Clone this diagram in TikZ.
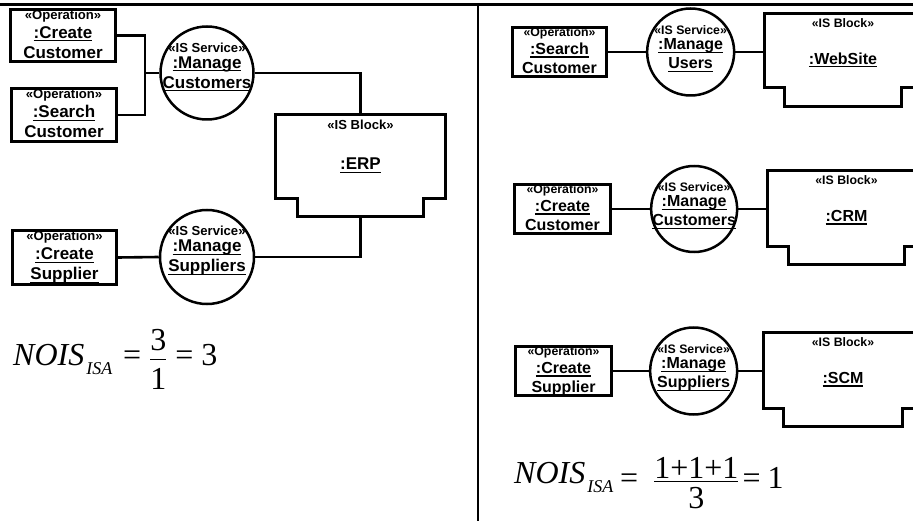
\documentclass[tikz,border=0pt]{standalone}
\usepackage{fontspec}
\setmainfont{Liberation Serif}
\setsansfont{Liberation Sans}
\usepackage{amsmath}
\usetikzlibrary{positioning}
\newsavebox{\nmbox}
\newcommand{\stereo}[1]{{\fontsize{0.77em}{1em}\selectfont «#1»}}
\newcommand{\nm}[1]{\sbox{\nmbox}{#1}\rlap{\rule[-3.2pt]{\wd\nmbox}{1.2pt}}\usebox{\nmbox}}
\newcommand{\nois}{\mbox{\itshape NOIS\kern2pt\raisebox{-9pt}{\fontsize{18}{18}\selectfont ISA}}}
\newcommand{\eqs}{\mathrel{\mbox{=}}}
\newcommand{\up}[2]{\raisebox{#1}[\height][\depth]{#2}}
% outline of an IS block: body with a narrower foot
\newcommand{\blkframe}[3]{%
  \draw[frame] (#1.north west) -- (#1.north east) -- ([yshift=#3]#1.south east)
    -- ([shift={(-#2,#3)}]#1.south east) -- ([xshift=-#2]#1.south east)
    -- ([xshift=#2]#1.south west) -- ([shift={(#2,#3)}]#1.south west)
    -- ([yshift=#3]#1.south west) -- cycle;}
\tikzset{
  lft/.style={font=\sffamily\bfseries\fontsize{17}{20}\selectfont},
  rgt/.style={font=\sffamily\bfseries\fontsize{16}{19}\selectfont},
  opbox/.style={draw, line width=2.8pt, align=center, inner sep=0pt},
  svc/.style={draw, circle, line width=2.5pt, inner sep=0pt},
  svclbl/.style={align=center, yshift=#1, inner sep=0pt},
  svclbl/.default=6pt,
  blk/.style={outer sep=0pt, inner sep=0pt, align=center},
  blklbl/.style={anchor=center, yshift=-10pt, inner sep=0pt},
  frame/.style={line width=2.8pt},
  wire/.style={line width=2.6pt},
  rule/.style={line width=2.8pt},
  formula/.style={font=\rmfamily\mdseries\fontsize{32}{38}\selectfont, inner sep=0pt, anchor=base west},
}
\begin{document}
\begin{tikzpicture}[x=1pt, y=-1pt]
  \useasboundingbox (0,0) rectangle (913,521);
  \clip (0,0) rectangle (913,521);
  \draw[rule] (0,4.5) -- (913,4.5);
  \draw[rule] (478,4.5) -- (478,521);

  % one IS block
  \begin{scope}[lft]
    \node[opbox, minimum width=105pt, minimum height=52pt] (opCC) at (63,35.5) {\stereo{Operation}\\[-1pt]\nm{:Create}\\\nm{Customer}};
    \node[opbox, minimum width=105pt, minimum height=53pt] (opSC) at (64,115) {\stereo{Operation}\\[-1pt]\nm{:Search}\\\nm{Customer}};
    \node[opbox, minimum width=104pt, minimum height=54pt] (opCS) at (64.5,257.5) {\stereo{Operation}\\[-1pt]\nm{:Create}\\\nm{Supplier}};
    \node[svc, minimum size=93pt, label={[svclbl]center:{\stereo{IS Service}\\[-4pt]\nm{:Manage}\\\nm{Customers}}}] (svcMC) at (207,73) {};
    \node[svc, minimum size=94pt, label={[svclbl]center:{\stereo{IS Service}\\[-4pt]\nm{:Manage}\\\nm{Suppliers}}}] (svcMS) at (207,257) {};
    \node[blk, minimum width=170pt, minimum height=102pt, label={[blklbl]north:\stereo{IS Block}}] (erp) at (360.5,165.5) {\nm{:ERP}};
    \blkframe{erp}{22pt}{18pt}
    \coordinate (jA) at (145,73);
    \draw[wire] (opCC.east) -| (jA) |- (opSC.east);
    \draw[wire] (jA) -- (svcMC.west);
    \draw[wire] (svcMC.east) -| (erp.north);
    \draw[wire] (erp.south) |- (svcMS.east);
    \draw[wire] (opCS.east) -- (svcMS.west);
  \end{scope}

  % three IS blocks
  \begin{scope}[rgt]
    \node[opbox, minimum width=94pt, minimum height=49pt] (opSU) at (559.5,52) {\stereo{Operation}\\[-1pt]\nm{:Search}\\\nm{Customer}};
    \node[svc, minimum size=87pt, right=38pt of opSU, label={[svclbl=3pt]center:{\stereo{IS Service}\\[-4pt]\nm{:Manage}\\\nm{Users}}}] (svcMU) {};
    \node[blk, minimum width=157pt, minimum height=93pt, label={[blklbl]north:\stereo{IS Block}}] (web) at (843,60) {\nm{:WebSite}};
    \blkframe{web}{20pt}{19pt}

    \node[opbox, minimum width=96pt, minimum height=49pt] (opCU) at (562.5,209) {\stereo{Operation}\\[-1pt]\nm{:Create}\\\nm{Customer}};
    \node[svc, minimum size=86pt, right=38pt of opCU, label={[svclbl=3pt]center:{\stereo{IS Service}\\[-4pt]\nm{:Manage}\\\nm{Customers}}}] (svcMC2) {};
    \node[blk, minimum width=158pt, minimum height=94pt, label={[blklbl]north:\stereo{IS Block}}] (crm) at (846.5,217.5) {\nm{:CRM}};
    \blkframe{crm}{21pt}{18pt}

    \node[opbox, minimum width=96pt, minimum height=49pt] (opCP) at (563.5,371) {\stereo{Operation}\\[-1pt]\nm{:Create}\\\nm{Supplier}};
    \node[svc, minimum size=87pt, right=36pt of opCP, label={[svclbl=3pt]center:{\stereo{IS Service}\\[-4pt]\nm{:Manage}\\\nm{Suppliers}}}] (svcMS2) {};
    \node[blk, minimum width=159pt, minimum height=94pt, label={[blklbl]north:\stereo{IS Block}}] (scm) at (843,379.5) {\nm{:SCM}};
    \blkframe{scm}{20pt}{18pt}

    \draw[wire] (opSU) -- (svcMU);
    \draw[wire] (svcMU.east) -- (svcMU.east -| web.west);
    \draw[wire] (opCU) -- (svcMC2);
    \draw[wire] (svcMC2.east) -- (svcMC2.east -| crm.west);
    \draw[wire] (opCP) -- (svcMS2);
    \draw[wire] (svcMS2.east) -- (svcMS2.east -| scm.west);
  \end{scope}

  \node[formula] (metL) at (13,366) {$\nois\kern4pt \eqs\kern1pt \frac{\up{6pt}{3}}{\up{-7pt}{1}}\kern1pt \eqs\kern1pt \mbox{3}$};
  \node[formula] (metR) at (514,488) {$\raisebox{5pt}{\nois} \eqs\kern8pt \frac{\mbox{1+1+1}}{\up{-12pt}{3}}\kern-4pt \eqs \mbox{1}$};
\end{tikzpicture}
\end{document}
